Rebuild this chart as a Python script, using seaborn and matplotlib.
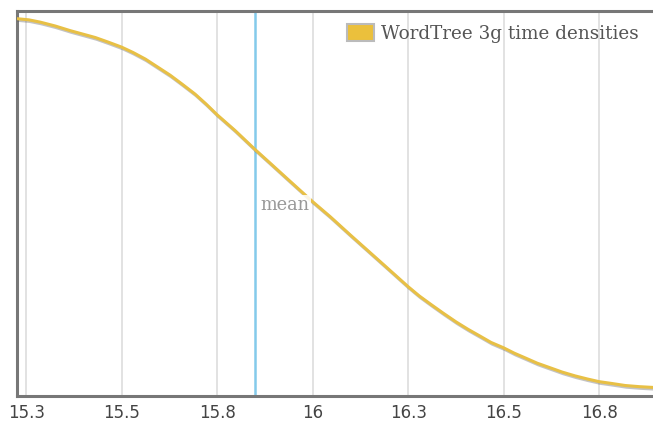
import matplotlib
matplotlib.use("Agg")
import matplotlib.pyplot as plt
import matplotlib.patheffects as pe
from matplotlib.patches import Patch
import seaborn as sns
import pandas as pd

# density curve (x = time, y = relative density)
time_values = [15.226, 15.257, 15.287, 15.326, 15.365, 15.398, 15.431, 15.465,
               15.500, 15.530, 15.562, 15.593, 15.627, 15.658, 15.692, 15.721,
               15.750, 15.797, 15.850, 15.889, 15.941, 16.000, 16.046, 16.098,
               16.177, 16.250, 16.279, 16.308, 16.342, 16.376, 16.407, 16.439,
               16.467, 16.500, 16.528, 16.556, 16.588, 16.622, 16.653, 16.687,
               16.719, 16.750, 16.785, 16.818, 16.855, 16.891]
density_values = [0.980, 0.977, 0.971, 0.961, 0.949, 0.940, 0.931, 0.919,
                  0.906, 0.892, 0.875, 0.855, 0.833, 0.810, 0.784, 0.758,
                  0.730, 0.689, 0.639, 0.604, 0.557, 0.504, 0.465, 0.418,
                  0.348, 0.283, 0.259, 0.238, 0.214, 0.191, 0.172, 0.154,
                  0.138, 0.124, 0.110, 0.098, 0.084, 0.072, 0.061, 0.051,
                  0.043, 0.036, 0.031, 0.026, 0.023, 0.021]
mean_time = 15.849
tick_values = [15.25, 15.5, 15.75, 16.0, 16.25, 16.5, 16.75]
tick_labels = ["15.3", "15.5", "15.8", "16", "16.3", "16.5", "16.8"]
series_name = "WordTree 3g time densities"

gold = "#E8C045"
blue = "#84CAEB"

sns.set_style("white")
plt.rcParams['font.family'] = ['DejaVu Serif']

df = pd.DataFrame({'time': time_values, 'density': density_values})

fig = plt.figure(figsize=(6.53, 4.23), dpi=100)
ax = fig.add_axes([17 / 653, 27.5 / 423, 1 - 17 / 653, (395.5 - 11) / 423])

# vertical grid
for t in tick_values:
    ax.axvline(t, color="#dddddd", lw=1.2, zorder=1)

ax.axvline(mean_time, color=blue, lw=1.8, zorder=2)

sns.lineplot(data=df, x='time', y='density', color=gold, lw=2.2, ax=ax, zorder=3,
             path_effects=[pe.SimpleLineShadow(offset=(0.8, -1.2), shadow_color='#555555', alpha=0.35),
                           pe.Normal()])

ax.text(mean_time + 0.015, 0.495, "mean", transform=ax.get_xaxis_transform(),
        ha='left', va='center', fontsize=12.8, color="#999999", zorder=4,
        bbox=dict(facecolor='white', edgecolor='none', alpha=0.85, pad=1))

ax.set_xlim(time_values[0], time_values[-1])
ax.set_ylim(0, 1)
ax.set_xticks(tick_values)
ax.set_xticklabels(tick_labels, family='DejaVu Sans', fontsize=12, color="#444444")
ax.set_yticks([])
ax.set_xlabel("")
ax.set_ylabel("")
ax.tick_params(axis='x', length=0, pad=6)

for side in ['left', 'top', 'bottom']:
    ax.spines[side].set_color("#777777")
    ax.spines[side].set_linewidth(2.2)
ax.spines['right'].set_visible(False)

handle = Patch(facecolor="#EBC03C", edgecolor="#bbbbbb", linewidth=1.5)
fig.legend([handle], [series_name], loc='upper left', bbox_to_anchor=(347 / 653, 1 - 24 / 423),
           frameon=False, fontsize=13.2, handlelength=1.45, handleheight=1.05,
           handletextpad=0.42, borderpad=0, borderaxespad=0, labelcolor="#555555")

fig.savefig("out.png", dpi=100)
